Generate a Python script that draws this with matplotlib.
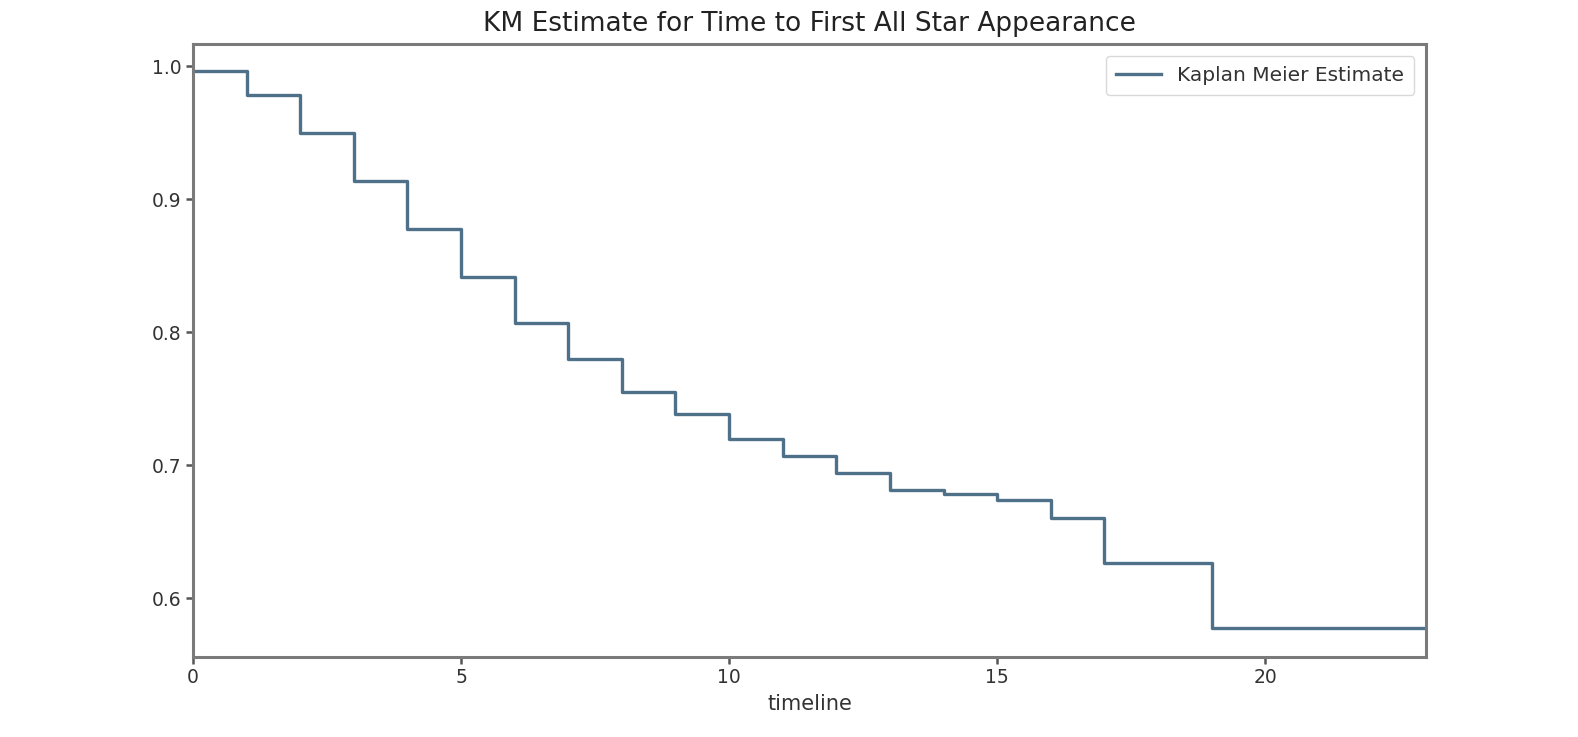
import matplotlib
matplotlib.use("Agg")
import matplotlib.pyplot as plt

# Kaplan-Meier step data (time, survival estimate)
timeline = [0, 1, 2, 3, 4, 5, 6, 7, 8, 9, 10, 11, 12, 13, 14, 15, 16, 17, 19, 23]
survival = [0.9968, 0.9786, 0.9502, 0.9141, 0.8778, 0.842, 0.8074, 0.780, 0.7555,
            0.7385, 0.7197, 0.7074, 0.6941, 0.6814, 0.6788, 0.674, 0.6608, 0.6265,
            0.578, 0.578]
x_ticks = [0, 5, 10, 15, 20]
y_ticks = [0.6, 0.7, 0.8, 0.9, 1.0]

fig = plt.figure(figsize=(15.78, 7.37), dpi=100)
ax = fig.add_axes([0.1223, 0.109, 0.7814, 0.8313])

line_color = "#4e7089"
ax.step(timeline, survival, where="post", color=line_color, lw=2.4,
        label="Kaplan Meier Estimate")

ax.set_xlim(0, 23)
ax.set_ylim(0.5562, 1.0169)
ax.set_xticks(x_ticks)
ax.set_yticks(y_ticks)
ax.set_yticklabels([f"{v:.1f}" for v in y_ticks])

for s in ax.spines.values():
    s.set_color("#7a7a7a")
    s.set_linewidth(2.2)
ax.tick_params(axis="both", colors="#555555", labelcolor="#333333",
               labelsize=13.5, width=1.8, length=5)

ax.set_xlabel("timeline", fontsize=15, color="#333333", labelpad=5)
ax.set_title("KM Estimate for Time to First All Star Appearance",
             fontsize=19, color="#222222", pad=9)

leg = ax.legend(loc="upper right", fontsize=14.5, frameon=True,
                handlelength=2.2, borderpad=0.5, borderaxespad=0.6)
leg.get_frame().set_edgecolor("#d0d0d0")
for t in leg.get_texts():
    t.set_color("#333333")

fig.savefig("out.png", dpi=100)
